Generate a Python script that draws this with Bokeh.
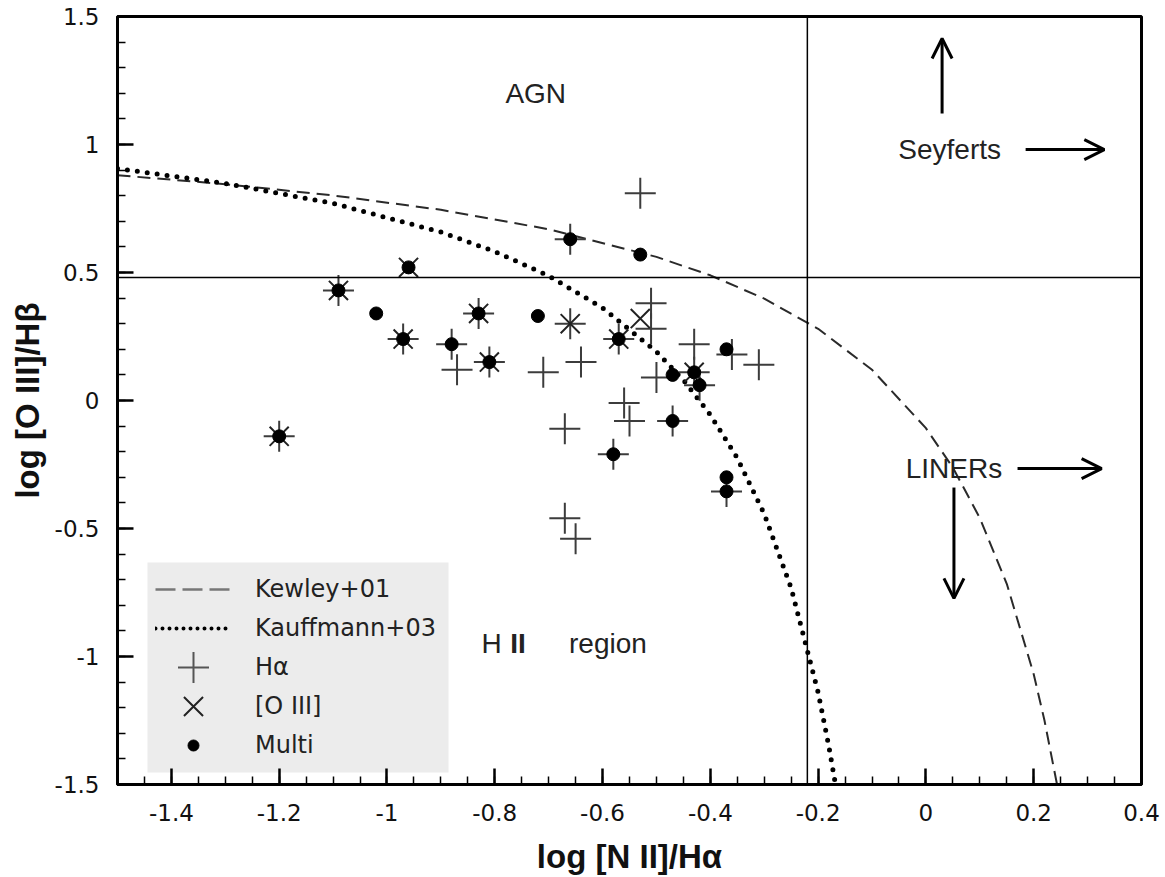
from bokeh.plotting import figure
from bokeh.models import (Span, Label, Arrow, OpenHead, Legend, LegendItem,
                          FixedTicker, NumeralTickFormatter, Range1d)
from bokeh.embed import file_html
from bokeh.resources import INLINE

# ---------------- data ----------------
# demarcation curves
kewley_x = [-1.5, -1.3, -1.1, -0.9, -0.7, -0.5, -0.4, -0.3, -0.2, -0.1, 0.0, 0.05, 0.1, 0.15, 0.2, 0.22, 0.243]
kewley_y = [0.880, 0.845, 0.801, 0.745, 0.669, 0.561, 0.489, 0.398, 0.280, 0.120, -0.108, -0.262, -0.459, -0.716, -1.069, -1.250, -1.497]

kauff_x = [-1.5, -1.3, -1.1, -0.9, -0.8, -0.7, -0.6, -0.5, -0.45, -0.4, -0.35, -0.3, -0.25, -0.2, -0.18, -0.168]
kauff_y = [0.906, 0.848, 0.770, 0.658, 0.582, 0.487, 0.362, 0.191, 0.080, -0.056, -0.225, -0.443, -0.733, -1.140, -1.352, -1.498]

# H-alpha selected
ha_x = [-1.20, -1.09, -0.97, -0.88, -0.87, -0.83, -0.81, -0.71, -0.66, -0.66, -0.64, -0.57, -0.53,
        -0.51, -0.51, -0.50, -0.43, -0.43, -0.42, -0.36, -0.31, -0.56, -0.55, -0.47, -0.67, -0.58,
        -0.37, -0.67, -0.65]
ha_y = [-0.14, 0.43, 0.24, 0.22, 0.12, 0.34, 0.15, 0.11, 0.63, 0.30, 0.15, 0.24, 0.81,
        0.38, 0.28, 0.09, 0.22, 0.11, 0.06, 0.18, 0.14, -0.01, -0.08, -0.08, -0.11, -0.21,
        -0.355, -0.46, -0.54]

# [O III] selected
oiii_x = [-1.20, -1.09, -0.97, -0.96, -0.83, -0.81, -0.66, -0.57, -0.53, -0.43]
oiii_y = [-0.14, 0.43, 0.24, 0.52, 0.34, 0.15, 0.30, 0.24, 0.32, 0.11]

# Multi selected
multi_x = [-1.20, -1.09, -1.02, -0.97, -0.96, -0.88, -0.83, -0.81, -0.72, -0.66, -0.57, -0.53,
           -0.47, -0.47, -0.43, -0.42, -0.37, -0.58, -0.37, -0.37]
multi_y = [-0.14, 0.43, 0.34, 0.24, 0.52, 0.22, 0.34, 0.15, 0.33, 0.63, 0.24, 0.57,
           0.10, -0.08, 0.11, 0.06, 0.20, -0.21, -0.30, -0.355]

x_ticks = [-1.4, -1.2, -1.0, -0.8, -0.6, -0.4, -0.2, 0.0, 0.2, 0.4]
y_ticks = [-1.5, -1.0, -0.5, 0.0, 0.5, 1.0, 1.5]
split_x = -0.22
split_y = 0.48

# ---------------- figure ----------------
FW, FH = 1024, 768
p = figure(frame_width=FW, frame_height=FH, x_range=(-1.5, 0.4), y_range=(-1.5, 1.5),
           output_backend="svg", toolbar_location=None,
           min_border_left=117, min_border_top=16, min_border_right=23, min_border_bottom=92,
           background_fill_color="white", border_fill_color="white")
p.grid.visible = False
p.outline_line_color = "black"
p.outline_line_width = 3
# pixel-space ranges (frame-relative) used for the legend box and its symbols
p.extra_x_ranges = {"px": Range1d(0, FW)}
p.extra_y_ranges = {"px": Range1d(0, FH)}

x_minor = [round(-1.5 + 0.05 * i, 3) for i in range(39)]
y_minor = [round(-1.5 + 0.1 * i, 3) for i in range(31)]
p.xaxis.ticker = FixedTicker(ticks=x_ticks, minor_ticks=x_minor)
p.yaxis.ticker = FixedTicker(ticks=y_ticks, minor_ticks=y_minor)
for ax in (p.xaxis, p.yaxis):
    ax.formatter = NumeralTickFormatter(format="0.[0]")
    ax.axis_line_width = 3
    ax.axis_line_color = "black"
    ax.major_tick_in = 16
    ax.major_tick_out = 0
    ax.minor_tick_in = 8
    ax.minor_tick_out = 0
    ax.major_tick_line_width = 2.5
    ax.minor_tick_line_width = 1.5
    ax.major_label_text_font = "DejaVu Sans"
    ax.major_label_text_font_size = "23px"
    ax.major_label_text_color = "#111111"
    ax.axis_label_text_font = "Liberation Sans"
    ax.axis_label_text_font_size = "33px"
    ax.axis_label_text_font_style = "bold"
    ax.axis_label_text_color = "#111111"
p.xaxis.axis_label = "log [N II]/Hα"
p.yaxis.axis_label = "log [O III]/Hβ"
p.xaxis.major_label_standoff = 19
p.yaxis.major_label_standoff = 18
p.xaxis.axis_label_standoff = 14
p.yaxis.axis_label_standoff = 6

# ---------------- legend geometry (screen pixels inside the frame) ----------------
LEG_X, LEG_Y, PAD, GW, GH, SP, LEG_W = 30, 12, 8, 76, 38, 1, 301
n_rows = 5
box_top = LEG_Y + 2 * PAD + n_rows * GH + (n_rows - 1) * SP
cx = LEG_X + PAD + GW / 2
row_y = [box_top - PAD - GH / 2 - i * (GH + SP) for i in range(n_rows)]

# legend background box (drawn first, beneath everything)
p.quad(left=[LEG_X], right=[LEG_X + LEG_W], bottom=[LEG_Y], top=[box_top],
       fill_color="#ececec", line_alpha=0, x_range_name="px", y_range_name="px")

# dividing lines
p.add_layout(Span(location=split_x, dimension="height", line_color="black", line_width=1.5))
p.add_layout(Span(location=split_y, dimension="width", line_color="black", line_width=1.5))

# curves
r_kew = p.line(kewley_x, kewley_y, line_color="#2a2a2a", line_width=2, line_dash="13 7")
r_kau = p.line(kauff_x, kauff_y, line_color="black", line_width=5, line_dash="0 10", line_cap="round")

# points
r_ha = p.scatter(ha_x, ha_y, marker="cross", size=31, line_color="#3c3c3c", line_width=2)
r_oiii = p.scatter(oiii_x, oiii_y, marker="x", size=27, line_color="#222222", line_width=2)
r_multi = p.scatter(multi_x, multi_y, marker="circle", size=13, fill_color="black", line_color="black")

# full-size legend symbols for the marker rows
p.scatter([cx], [row_y[2]], marker="cross", size=31, line_color="#555555", line_width=2,
          x_range_name="px", y_range_name="px")
p.scatter([cx], [row_y[3]], marker="x", size=27, line_color="#222222", line_width=2,
          x_range_name="px", y_range_name="px")
p.scatter([cx], [row_y[4]], marker="circle", size=11, fill_color="black", line_color="black",
          x_range_name="px", y_range_name="px")

# legend-only styles (kept outside the visible ranges)
lg_kew = p.line([-9, -8], [-9, -9], line_color="#777777", line_width=2.5, line_dash="20 7")
lg_kau = p.line([-9, -8], [-9, -9], line_color="black", line_width=4, line_dash="0 7", line_cap="round")
lg_ha = p.scatter([-9], [-9], marker="cross", size=10, line_alpha=0, fill_alpha=0)
lg_oiii = p.scatter([-9], [-9], marker="x", size=10, line_alpha=0, fill_alpha=0)
lg_multi = p.scatter([-9], [-9], marker="circle", size=10, line_alpha=0, fill_alpha=0)

legend = Legend(items=[
    LegendItem(label="Kewley+01", renderers=[lg_kew]),
    LegendItem(label="Kauffmann+03", renderers=[lg_kau]),
    LegendItem(label="Hα", renderers=[lg_ha]),
    LegendItem(label="[O III]", renderers=[lg_oiii]),
    LegendItem(label="Multi", renderers=[lg_multi]),
], location=(LEG_X, LEG_Y), background_fill_alpha=0.0,
    border_line_alpha=0, label_text_font="DejaVu Sans", label_text_font_size="24px",
    label_text_color="#222222", glyph_width=GW, glyph_height=GH, spacing=SP, padding=PAD,
    label_standoff=24, margin=0)
p.add_layout(legend)

# region labels
lab_kw = dict(text_font="Liberation Sans", text_font_size="28px", text_color="#222222",
              text_align="center", text_baseline="middle")
p.add_layout(Label(x=-0.724, y=1.199, text="AGN", **lab_kw))
p.add_layout(Label(x=0.044, y=0.98, text="Seyferts", **lab_kw))
p.add_layout(Label(x=0.052, y=-0.266, text="LINERs", **lab_kw))
p.add_layout(Label(x=-0.806, y=-0.949, text="H", **lab_kw))
p.add_layout(Label(x=-0.757, y=-0.949, text="II", text_font_style="bold", **lab_kw))
p.add_layout(Label(x=-0.590, y=-0.949, text="region", **lab_kw))

# arrows
arrow_kw = dict(line_width=3, line_color="black")
def head():
    return OpenHead(size=20, line_width=3, line_color="black")
p.add_layout(Arrow(end=head(), x_start=0.030, y_start=1.121, x_end=0.030, y_end=1.414, **arrow_kw))
p.add_layout(Arrow(end=head(), x_start=0.185, y_start=0.98, x_end=0.331, y_end=0.98, **arrow_kw))
p.add_layout(Arrow(end=head(), x_start=0.170, y_start=-0.266, x_end=0.326, y_end=-0.266, **arrow_kw))
p.add_layout(Arrow(end=head(), x_start=0.052, y_start=-0.340, x_end=0.052, y_end=-0.773, **arrow_kw))

open("out.html", "w").write(file_html(p, INLINE))
